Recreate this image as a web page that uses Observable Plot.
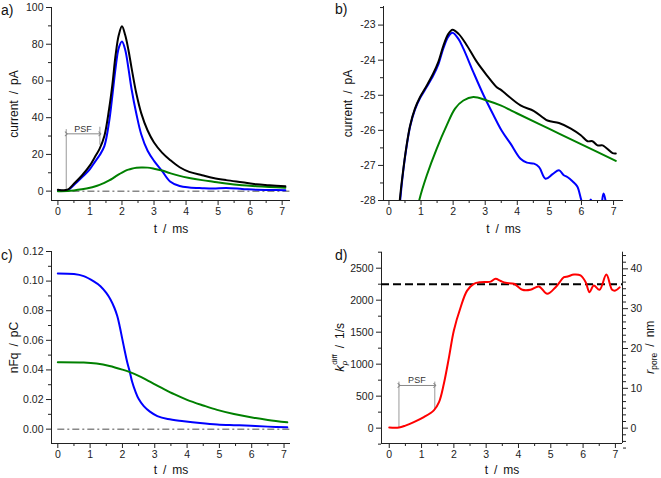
<!DOCTYPE html>
<html><head><meta charset="utf-8">
<script src="https://cdn.jsdelivr.net/npm/d3@7"></script>
<script src="https://cdn.jsdelivr.net/npm/@observablehq/plot@0.6"></script>
<style>
body{margin:0;background:#fff;}
#wrap{position:relative;width:661px;height:478px;font-family:"Liberation Sans",Arial,sans-serif;color:#111;overflow:hidden;}
.panel{position:absolute;}
.tag{position:absolute;font-size:14px;line-height:14px;}
</style></head><body><div id="wrap"></div>
<script>
// ---------- panel a: current vs time ----------
const tA =     [0, 0.3, 0.5, 0.75, 1.0, 1.15, 1.3, 1.45, 1.6, 1.7, 1.8, 1.9, 2.0, 2.1, 2.2, 2.3, 2.45, 2.6, 2.8, 3.0, 3.25, 3.5, 3.8, 4.1, 4.5, 4.85, 5.25, 5.75, 6.2, 6.6, 7.1];
const blackA = [0.8, 0.8, 4, 8.5, 14, 18.5, 23, 30, 45, 58, 74, 85, 89.8, 85, 77, 67, 53, 42.5, 33, 26.5, 21, 17, 13, 10.5, 8.7, 7.2, 6.0, 4.8, 3.7, 3.2, 2.6];
const blueA =  [0.3, 0.4, 3.3, 7.5, 12, 15.8, 19.5, 24.5, 38, 52, 67, 78, 81.5, 77, 67, 55.5, 42, 31, 22, 16.5, 11, 5.3, 2.8, 2.0, 1.6, 1.4, 1.7, 1.2, 0.7, 0.6, 0.5];
const greenA = [0, 0.1, 0.4, 1.0, 1.8, 2.5, 3.4, 4.5, 5.8, 6.8, 8.0, 9.1, 10.1, 11.0, 11.7, 12.2, 12.7, 12.9, 12.8, 12.2, 11.2, 9.8, 8.3, 7.2, 6.0, 5.1, 4.1, 3.2, 2.7, 2.3, 1.9];
const psfTA = [0.26, 1.31];      // PSF marker times
const psfBottomA = [0, 25];
const psfTopA = [33.5, 34.8];
const psfArrowA = [31.2];

// ---------- panel b: log-scale currents ----------
const tBk =    [0.3, 0.34, 0.45, 0.55, 0.66, 0.81, 0.97, 1.18, 1.38, 1.54, 1.7, 1.85, 1.98, 2.17, 2.43, 2.74, 3.05, 3.36, 3.48, 4.1, 4.52, 4.94, 5.3, 5.67, 5.98, 6.19, 6.34, 6.5, 6.66, 6.97, 7.07];
const blackB = [-28.5, -27.97, -27.09, -26.43, -25.86, -25.38, -25.05, -24.72, -24.38, -24.05, -23.58, -23.25, -23.13, -23.25, -23.58, -24.05, -24.43, -24.77, -24.84, -25.29, -25.45, -25.72, -25.79, -25.95, -26.14, -26.31, -26.31, -26.43, -26.43, -26.65, -26.66];
const tBb =    [0.3, 0.35, 0.45, 0.55, 0.66, 0.81, 0.97, 1.18, 1.38, 1.54, 1.7, 1.85, 1.98, 2.17, 2.32, 2.63, 2.95, 3.26, 3.52, 3.79, 4.1, 4.3, 4.52, 4.68, 4.88, 5.1, 5.3, 5.45, 5.56, 5.72, 5.87, 6.0, 6.15, 6.29, 6.45, 6.6, 6.69, 6.8, 7.0, 7.1];
const blueB =  [-28.6, -28.0, -27.12, -26.46, -25.89, -25.41, -25.08, -24.76, -24.44, -24.12, -23.65, -23.33, -23.22, -23.4, -23.67, -24.34, -25.0, -25.57, -26.02, -26.38, -26.81, -26.92, -26.95, -27.05, -27.38, -27.25, -27.14, -27.28, -27.33, -27.45, -27.6, -28.0, -28.3, -27.97, -28.4, -28.2, -27.8, -28.2, -28.6, -28.7];
const tBg =    [0.9, 0.95, 1.18, 1.49, 1.8, 2.06, 2.32, 2.63, 3.05, 3.48, 4.0, 5.0, 6.0, 7.07];
const greenB = [-28.2, -27.97, -27.28, -26.52, -25.86, -25.38, -25.15, -25.05, -25.15, -25.29, -25.52, -25.96, -26.4, -26.87];

// ---------- panel c: charge ----------
const tCb =   [0, 0.5, 0.8, 1.1, 1.32, 1.5, 1.63, 1.75, 1.84, 1.92, 1.99, 2.07, 2.15, 2.23, 2.3, 2.4, 2.5, 2.66, 2.85, 3.08, 3.4, 3.9, 4.4, 4.93, 5.45, 5.97, 6.5, 7.1];
const blueC = [0.1052, 0.1048, 0.1034, 0.100, 0.0966, 0.092, 0.0876, 0.082, 0.0764, 0.069, 0.0615, 0.053, 0.045, 0.0385, 0.032, 0.0255, 0.0205, 0.0155, 0.0118, 0.0088, 0.0068, 0.0054, 0.0042, 0.0032, 0.0027, 0.0023, 0.0017, 0.0012];
const tCg =   [0, 0.8, 1.2, 1.6, 2.0, 2.23, 2.5, 2.8, 3.2, 3.6, 4.0, 4.5, 4.93, 5.45, 5.97, 6.5, 7.1];
const greenC= [0.0452, 0.0450, 0.0443, 0.0427, 0.0402, 0.0385, 0.0360, 0.0326, 0.0280, 0.0236, 0.0198, 0.0160, 0.0130, 0.0102, 0.0080, 0.0062, 0.0046];

// ---------- panel d: k_diff ----------
const tD = [0, 0.3, 0.5, 0.76, 1.07, 1.38, 1.54, 1.69, 1.85, 2.0, 2.21, 2.41, 2.62, 2.83, 3.0, 3.14, 3.29, 3.45, 3.6, 3.86, 4.12, 4.37, 4.63, 4.89, 5.15, 5.41, 5.52, 5.72, 5.92, 6.08, 6.2, 6.33, 6.51, 6.72, 6.9, 7.0, 7.13];
const kD = [10, 10, 40, 94, 172, 277, 406, 694, 1110, 1527, 1890, 2150, 2256, 2281, 2285, 2290, 2334, 2300, 2271, 2256, 2162, 2162, 2214, 2100, 2203, 2359, 2370, 2400, 2386, 2281, 2125, 2230, 2162, 2400, 2162, 2150, 2200];
const kPlateau = [2250];
const psfTD = [0.3, 1.41];
const psfBottomD = [0, 280];
const psfTopD = [720, 720];
const psfArrowD = [667];
const K_PER_NM = 62.25;   // right axis: r_pore (nm) -> k_diff (1/s)
const rMajor = [0, 10, 20, 30, 40];

// ---------- axis ticks ----------
const tMajor = [0, 1, 2, 3, 4, 5, 6, 7];
const tMinor = [0.5, 1.5, 2.5, 3.5, 4.5, 5.5, 6.5];

const rows = (t, v) => t.map((x, i) => ({t: x, v: v[i]}));
const FONT = '"Liberation Sans", Arial, sans-serif';
const AX = "#222";

function axes(xd, yd, yMajor, yMinor, yFmt) {
  return [
    Plot.ruleX([xd[0]], {stroke: AX, strokeWidth: 1}),
    Plot.ruleY([yd[0]], {stroke: AX, strokeWidth: 1}),
    Plot.axisX({ticks: tMajor, tickSize: 5, tickPadding: 2, tickFormat: d => String(d), label: null, stroke: AX, fill: AX}),
    Plot.axisX({ticks: tMinor, tickSize: 3, tickFormat: () => "", label: null, stroke: AX}),
    Plot.axisY({ticks: yMajor, tickSize: 5, tickPadding: 3, tickFormat: yFmt, label: null, stroke: AX, fill: AX}),
    Plot.axisY({ticks: yMinor, tickSize: 3, tickFormat: () => "", label: null, stroke: AX})
  ];
}
function xLabel(dy) {
  return Plot.text(["t\u2002/\u2002ms"], {frameAnchor: "bottom", dy, lineAnchor: "middle", textAnchor: "middle", fontSize: 12, fill: "#111"});
}
function yLabel(s, dx) {
  return Plot.text([s], {frameAnchor: "left", dx, rotate: -90, lineAnchor: "middle", textAnchor: "middle", fontSize: 12, fill: "#111"});
}
function zeroLine(xd) {
  return Plot.ruleY([0], {x1: tMajor[0], x2: xd[1], stroke: "#888", strokeWidth: 1.5, strokeDasharray: "7,3,2,3"});
}
function range(a, b, s) { const r = []; for (let v = a; v <= b + 1e-9; v += s) r.push(+v.toFixed(6)); return r; }

const wrap = document.getElementById("wrap");
function place(svg, left, top) {
  const d = document.createElement("div");
  d.className = "panel"; d.style.left = left + "px"; d.style.top = top + "px";
  d.appendChild(svg); wrap.appendChild(d); return svg;
}
function tag(s, left, top) {
  const d = document.createElement("div");
  d.className = "tag"; d.style.left = left + "px"; d.style.top = top + "px"; d.textContent = s;
  wrap.appendChild(d);
}
const style = {fontFamily: FONT, fontSize: "10.5px", color: "#111", background: "transparent", overflow: "visible"};
const lw = 2;
const str = d => String(d);

// ---- a ----
{
  const xd = [-0.2, 7.26], yd = [-5.1, 100];
  const psf = psfTA.map((t, i) => ({t, b: psfBottomA[i], top: psfTopA[i]}));
  const svg = Plot.plot({
    width: 330, height: 239, marginLeft: 51, marginRight: 40, marginTop: 7, marginBottom: 39,
    style,
    x: {domain: xd}, y: {domain: yd},
    marks: [
      ...axes(xd, yd, [0, 20, 40, 60, 80, 100], [10, 30, 50, 70, 90], str),
      zeroLine(xd),
      Plot.ruleX(psf, {x: "t", y1: "b", y2: "top", stroke: "#999", strokeWidth: 1}),
      Plot.link(psfArrowA, {x1: psfTA[0], x2: psfTA[1], y1: d => d, y2: d => d, stroke: "#888", strokeWidth: 1, markerStart: "arrow", markerEnd: "arrow"}),
      Plot.text(psfArrowA, {x: (psfTA[0] + psfTA[1]) / 2, y: d => d, text: () => "PSF", dy: -2, lineAnchor: "bottom", fontSize: 9, fill: "#333"}),
      Plot.line(rows(tA, blueA), {x: "t", y: "v", stroke: "#0000ff", strokeWidth: lw, curve: "catmull-rom"}),
      Plot.line(rows(tA, greenA), {x: "t", y: "v", stroke: "#008000", strokeWidth: lw, curve: "catmull-rom"}),
      Plot.line(rows(tA, blackA), {x: "t", y: "v", stroke: "#000", strokeWidth: lw, curve: "catmull-rom"}),
      xLabel(29), yLabel("current\u2002/\u2002pA", -37)
    ]
  });
  place(svg, 0, 0); tag("a)", 1, 3);
}
// ---- b ----
{
  const xd = [-0.17, 7.31], yd = [-28, -22.47];
  const svg = Plot.plot({
    width: 331, height: 239, marginLeft: 53, marginRight: 38, marginTop: 6, marginBottom: 39,
    style,
    x: {domain: xd}, y: {domain: yd},
    marks: [
      ...axes(xd, yd, [-28, -27, -26, -25, -24, -23], range(-27.5, -22.5, 1), str),
      Plot.line(rows(tBb, blueB), {x: "t", y: "v", stroke: "#0000ff", strokeWidth: lw, curve: "catmull-rom", clip: true}),
      Plot.line(rows(tBg, greenB), {x: "t", y: "v", stroke: "#008000", strokeWidth: lw, curve: "catmull-rom", clip: true}),
      Plot.line(rows(tBk, blackB), {x: "t", y: "v", stroke: "#000", strokeWidth: lw, curve: "catmull-rom", clip: true}),
      xLabel(29), yLabel("current\u2002/\u2002pA", -35)
    ]
  });
  place(svg, 330, 0); tag("b)", 335, 2);
}
// ---- c ----
{
  const xd = [-0.195, 7.2], yd = [-0.0097, 0.12];
  const svg = Plot.plot({
    width: 330, height: 239, marginLeft: 51, marginRight: 40, marginTop: 12, marginBottom: 35,
    style,
    x: {domain: xd}, y: {domain: yd},
    marks: [
      ...axes(xd, yd, [0, 0.02, 0.04, 0.06, 0.08, 0.10, 0.12], [0.01, 0.03, 0.05, 0.07, 0.09, 0.11], d3.format(".2f")),
      zeroLine(xd),
      Plot.line(rows(tCb, blueC), {x: "t", y: "v", stroke: "#0000ff", strokeWidth: lw, curve: "catmull-rom"}),
      Plot.line(rows(tCg, greenC), {x: "t", y: "v", stroke: "#008000", strokeWidth: lw, curve: "catmull-rom"}),
      xLabel(27), yLabel("nFq\u2002/\u2002pC", -37)
    ]
  });
  place(svg, 0, 239); tag("c)", 1, 248);
}
// ---- d ----
{
  const xd = [-0.24, 7.22], yd = [-240, 2750];
  const psf = psfTD.map((t, i) => ({t, b: psfBottomD[i], top: psfTopD[i]}));
  const rMinor = range(-3 * 10 / 6, 44, 10 / 6).filter(r => Math.abs(r / 10 - Math.round(r / 10)) > 1e-6);
  const svg = Plot.plot({
    width: 331, height: 239, marginLeft: 51, marginRight: 39, marginTop: 12.7, marginBottom: 35,
    style,
    x: {domain: xd}, y: {domain: yd},
    marks: [
      ...axes(xd, yd, [0, 500, 1000, 1500, 2000, 2500], [-250, 250, 750, 1250, 1750, 2250, 2750], str),
      Plot.ruleX([xd[1]], {stroke: AX, strokeWidth: 1}),
      Plot.axisY({ticks: rMajor.map(r => r * K_PER_NM), anchor: "right", tickSize: 5, tickPadding: 3, tickFormat: k => String(Math.round(k / K_PER_NM)), label: null, stroke: AX, fill: AX}),
      Plot.axisY({ticks: rMinor.map(r => r * K_PER_NM), anchor: "right", tickSize: 3, tickFormat: () => "", label: null, stroke: AX}),
      Plot.ruleY(kPlateau, {stroke: "#000", strokeWidth: 2, strokeDasharray: "8,4"}),
      Plot.ruleX(psf, {x: "t", y1: "b", y2: "top", stroke: "#999", strokeWidth: 1}),
      Plot.link(psfArrowD, {x1: psfTD[0], x2: psfTD[1], y1: d => d, y2: d => d, stroke: "#888", strokeWidth: 1, markerStart: "arrow", markerEnd: "arrow"}),
      Plot.text(psfArrowD, {x: (psfTD[0] + psfTD[1]) / 2, y: d => d, text: () => "PSF", dy: -2, lineAnchor: "bottom", fontSize: 9, fill: "#333"}),
      Plot.line(rows(tD, kD), {x: "t", y: "v", stroke: "#ff0000", strokeWidth: lw, curve: "catmull-rom"}),
      xLabel(27)
    ]
  });
  place(svg, 330, 239); tag("d)", 335, 248);
  const s = d3.select(svg);
  const cy = 12.7 + (239 - 12.7 - 35) / 2;
  // left label: k_p^diff / 1/s
  const L = s.append("text").attr("transform", `translate(14,${cy}) rotate(-90)`)
    .attr("text-anchor", "middle").attr("font-size", 12).attr("fill", "#111").attr("font-family", FONT);
  L.append("tspan").attr("font-style", "italic").attr("font-size", 13).text("k");
  L.append("tspan").attr("font-style", "italic").attr("font-size", 8).attr("dy", 3).text("p");
  L.append("tspan").attr("font-size", 8).attr("dx", -4).attr("dy", -10).text("diff");
  L.append("tspan").attr("dy", 7).text("\u2002/\u20021/s");
  // right label: r_pore / nm
  const R = s.append("text").attr("transform", `translate(324,${cy}) rotate(-90)`)
    .attr("text-anchor", "middle").attr("font-size", 12).attr("fill", "#111").attr("font-family", FONT);
  R.append("tspan").attr("font-style", "italic").attr("font-size", 13).text("r");
  R.append("tspan").attr("font-size", 8.5).attr("dy", 3).text("pore");
  R.append("tspan").attr("dy", -3).text("\u2002/\u2002nm");
}
</script>
</body></html>
